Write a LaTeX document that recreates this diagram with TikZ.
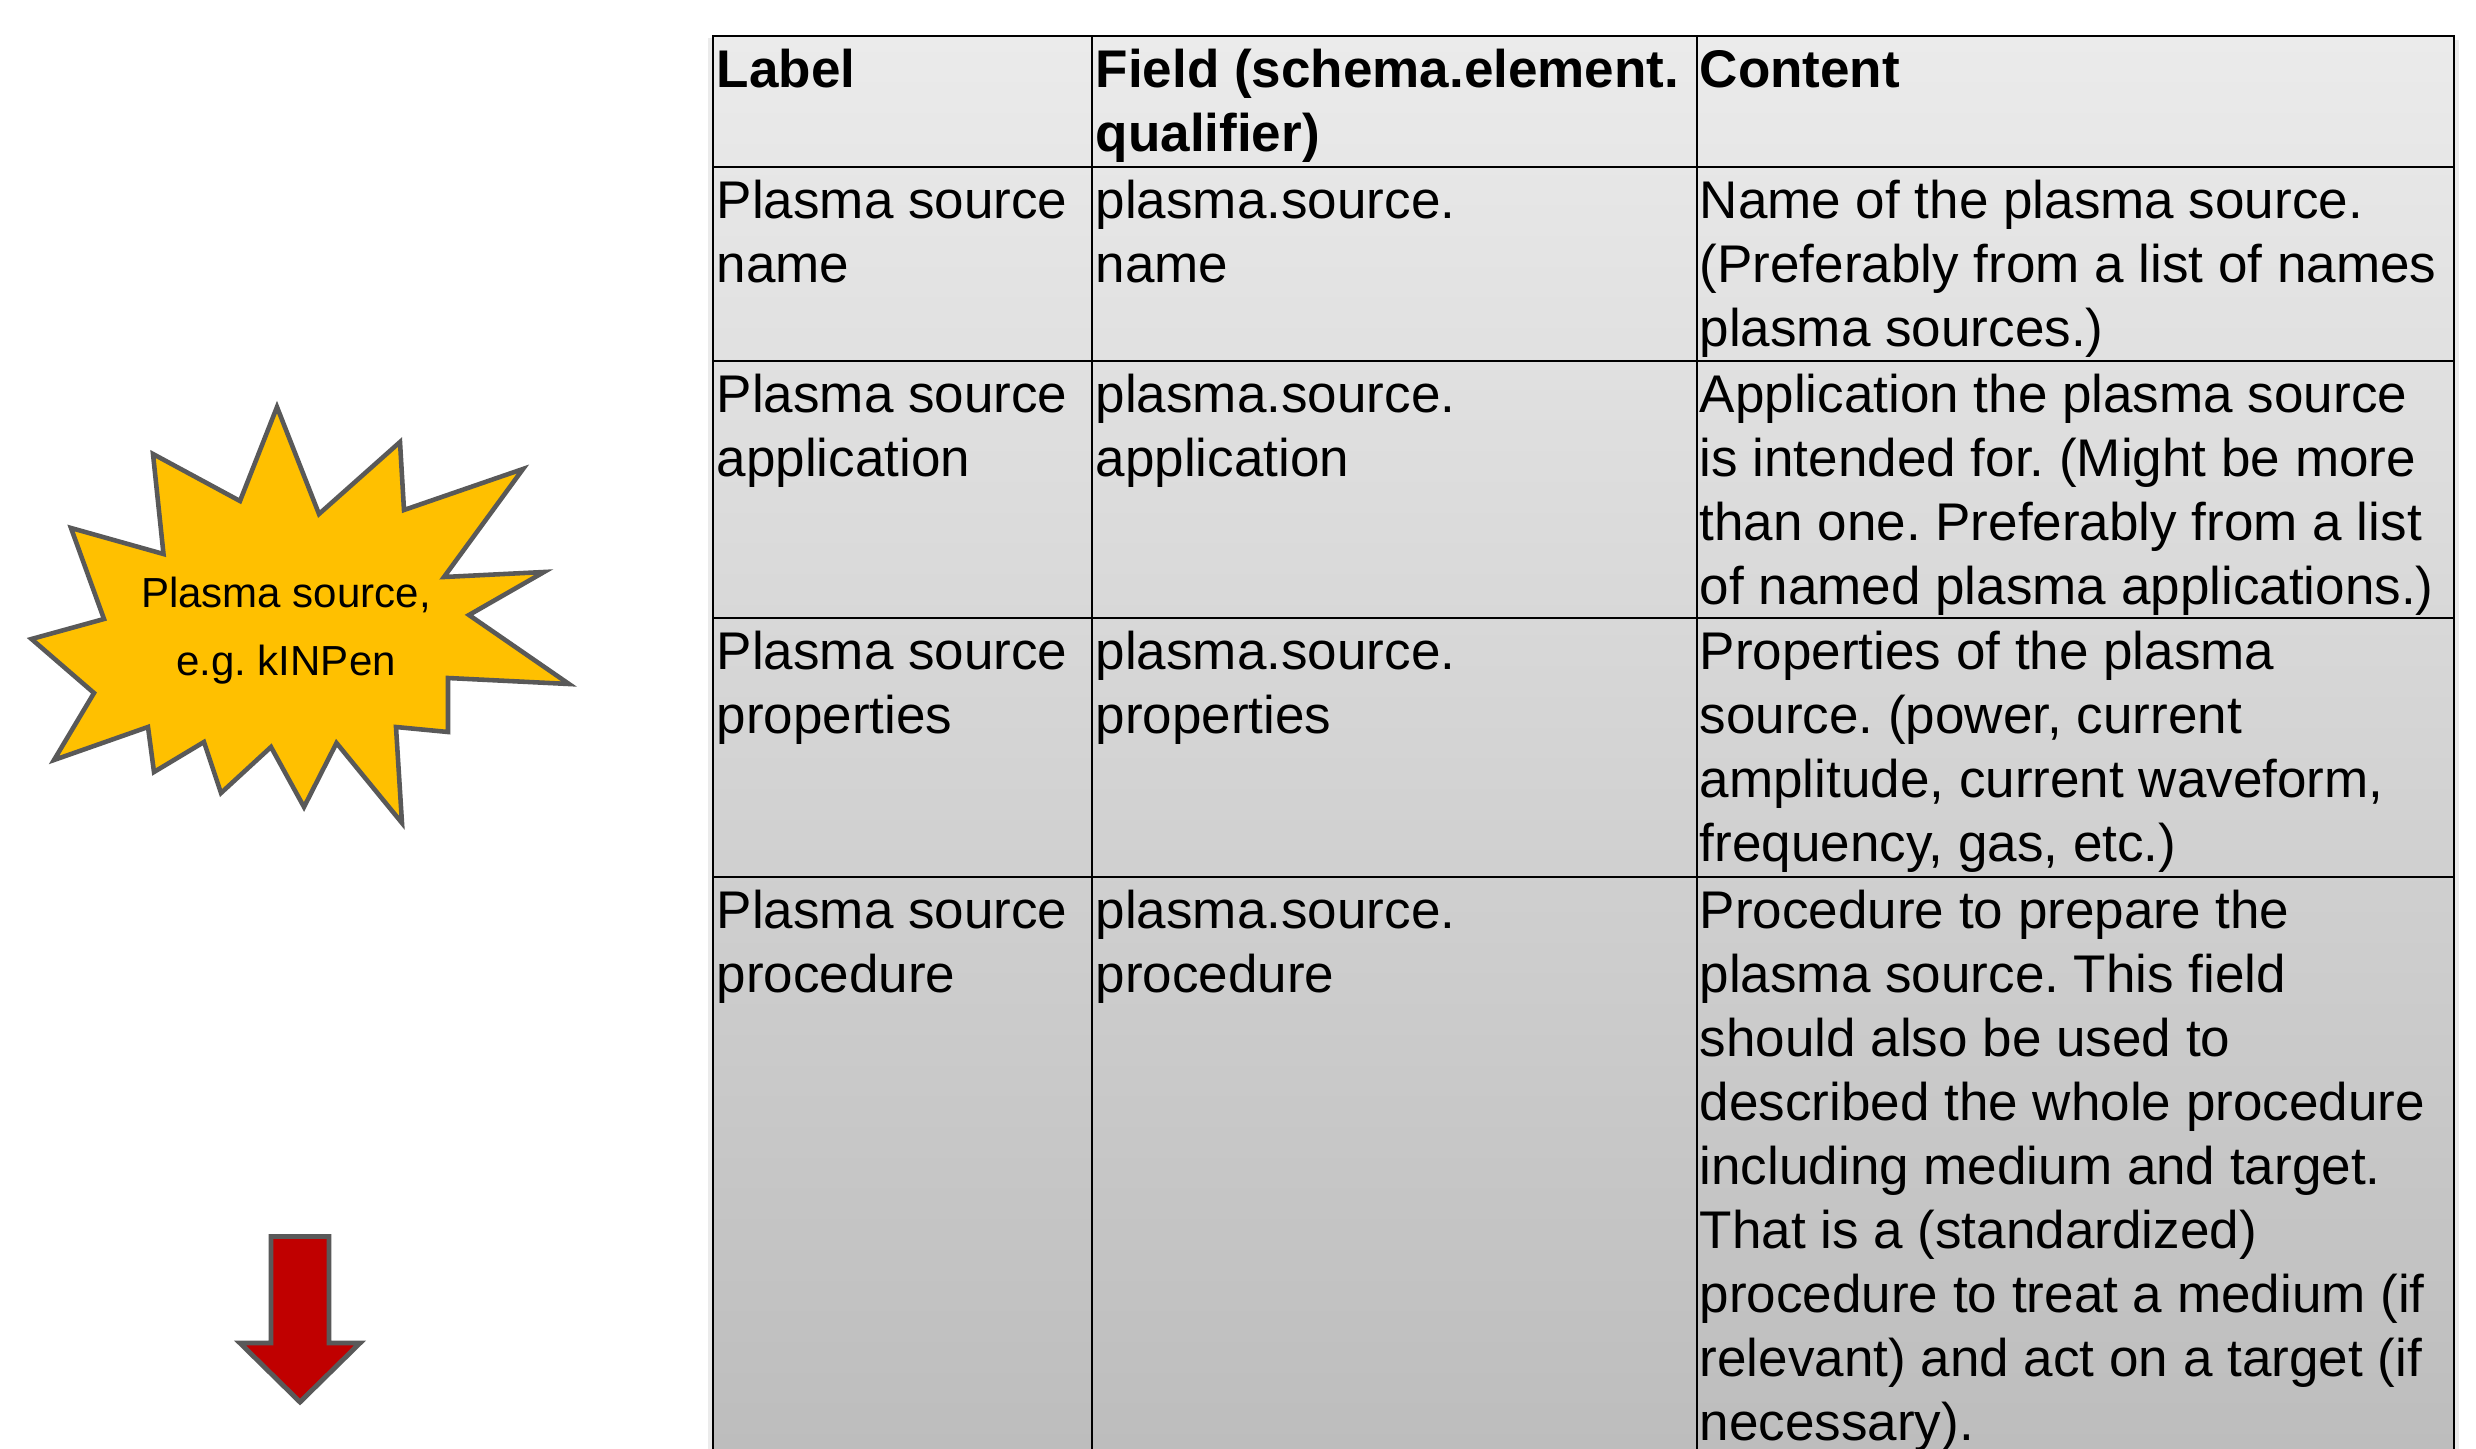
\documentclass[tikz,border=0pt]{standalone}
\usepackage{fontspec}
\setmainfont{Liberation Sans}
\frenchspacing
\definecolor{starfill}{HTML}{FFC000}
\definecolor{outl}{HTML}{595959}
\definecolor{arrowfill}{HTML}{C00000}
\definecolor{tabtop}{RGB}{235,235,235}
\definecolor{tabbot}{RGB}{189,189,189}
\newcommand{\tabfont}{\fontsize{15.08}{18.2}\selectfont\frenchspacing}
\newcommand{\starfont}{\fontsize{11.95}{19.35}\selectfont}
\tikzset{
  cell/.style={anchor=north west, inner sep=0pt, align=left, font=\tabfont},
  grid/.style={black, line width=0.6pt},
  starshape/.style={fill=starfill, draw=outl, line width=1.3pt, line join=miter},
  bigarrow/.style={fill=arrowfill, draw=outl, line width=1.4pt, line join=miter},
}
\begin{document}
\begin{tikzpicture}[x=0.01cm, y=-0.01cm]
\useasboundingbox (0,0) rectangle (2476,1449);
% table background
\fill[black!8] (708,38) rectangle (713,1449);
\fill[black!8] (2454,40) rectangle (2459,1449);
\shade[top color=tabtop, bottom color=tabbot] (713,36) rectangle (2454,1449);
% grid
\draw[grid] (713,1449) -- (713,36) -- (2454,36) -- (2454,1449);
\draw[grid] (1092,36) -- (1092,1449);
\draw[grid] (1697,36) -- (1697,1449);
\foreach \yy in {167,361,618,877} \draw[grid] (713,\yy) -- (2454,\yy);
% header
\node[cell] (h1) at (716,42.2) {\strut\bfseries Label};
\node[cell] (h2) at (1095,42.2) {\strut\bfseries Field (schema.element.\\\bfseries qualifier)};
\node[cell] (h3) at (1699,42.2) {\strut\bfseries Content};
% row 1
\node[cell] (a1) at (716,173.2) {\strut Plasma source\\name};
\node[cell] (b1) at (1095,173.2) {\strut plasma.source.\\name};
\node[cell] (c1) at (1699,173.2) {\strut Name of the plasma source.\\(Preferably from a list of names\\plasma sources.)};
% row 2
\node[cell] (a2) at (716,367.2) {\strut Plasma source\\application};
\node[cell] (b2) at (1095,367.2) {\strut plasma.source.\\application};
\node[cell] (c2) at (1699,367.2) {\strut Application the plasma source\\is intended for. (Might be more\\than one. Preferably from a list\\of named plasma applications.)};
% row 3
\node[cell] (a3) at (716,624.2) {\strut Plasma source\\properties};
\node[cell] (b3) at (1095,624.2) {\strut plasma.source.\\properties};
\node[cell] (c3) at (1699,624.2) {\strut Properties of the plasma\\source. (power, current\\amplitude, current waveform,\\frequency, gas, etc.)};
% row 4
\node[cell] (a4) at (716,883.2) {\strut Plasma source\\procedure};
\node[cell] (b4) at (1095,883.2) {\strut plasma.source.\\procedure};
\node[cell] (c4) at (1699,883.2) {\strut Procedure to prepare the\\plasma source. This field\\should also be used to\\described the whole procedure\\including medium and target.\\That is a (standardized)\\procedure to treat a medium (if\\relevant) and act on a target (if\\necessary).};
% star
\draw[starshape] (277,407) -- (319,514) -- (400,442) -- (404,510) -- (523,469)
  -- (444,577) -- (544,572) -- (469,615) -- (569,684) -- (448,678) -- (448,732)
  -- (396,727) -- (402,823) -- (336.5,743) -- (304,807) -- (271,747) -- (221,793)
  -- (204,742) -- (154,772) -- (148,727) -- (54,760) -- (94,693) -- (31.5,639)
  -- (104,619) -- (71,528) -- (163.5,554) -- (153,454) -- (240,501) -- cycle;
\node[font=\starfont, align=center, inner sep=0pt, anchor=north] (starlbl) at (286,559.4) {\strut Plasma source,\\e.g. kINPen};
% arrow
\draw[bigarrow] (271,1236.5) -- (329,1236.5) -- (329,1343) -- (360,1343) -- (300,1402)
  -- (240,1343) -- (271,1343) -- cycle;
\end{tikzpicture}
\end{document}
